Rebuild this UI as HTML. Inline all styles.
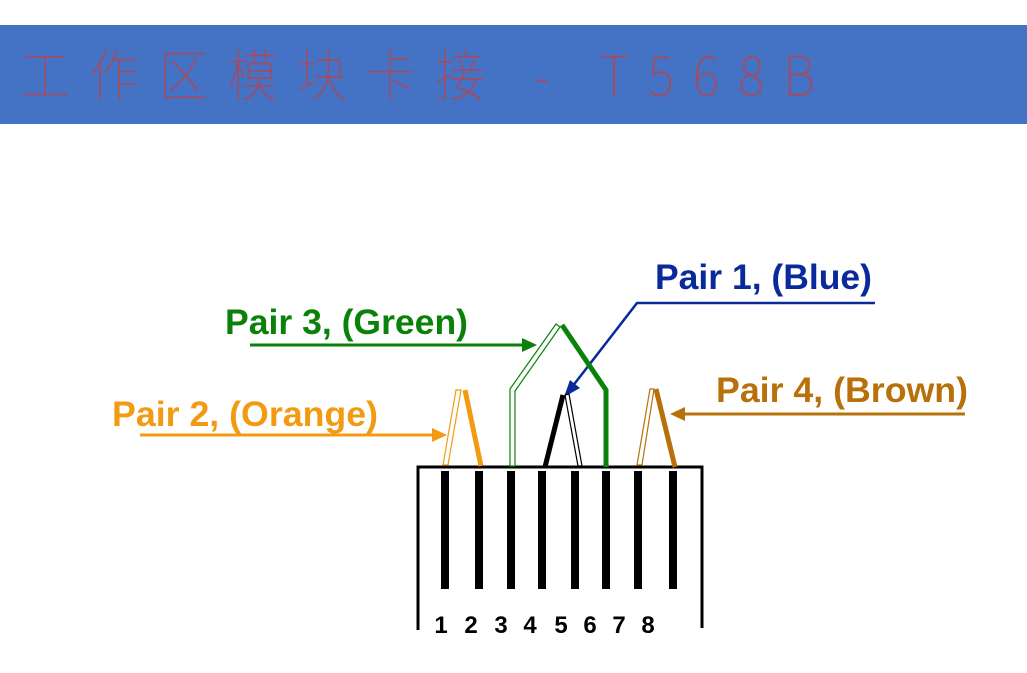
<!DOCTYPE html>
<html><head><meta charset="utf-8"><style>
html,body{margin:0;padding:0;background:#fff;}
svg{display:block;}
</style></head><body>
<svg width="1027" height="673" viewBox="0 0 1027 673" xmlns="http://www.w3.org/2000/svg">
<rect x="0" y="25" width="1027" height="99" fill="#4472c4"/>
<g transform="translate(20,96) scale(1,1.12)">
<text x="0" y="0" font-family="'Noto Sans CJK SC',sans-serif" font-weight="100" font-size="50" fill="#a84a5c" textLength="795" lengthAdjust="spacing">工作区模块卡接  -  T568B</text>
</g>
<g font-family="'Liberation Sans',Arial,sans-serif" font-weight="bold" font-size="35">
<text x="655" y="289" fill="#0a2a9c" textLength="217" lengthAdjust="spacingAndGlyphs">Pair 1, (Blue)</text>
<text x="225" y="334" fill="#0a820a" textLength="243" lengthAdjust="spacingAndGlyphs">Pair 3, (Green)</text>
<text x="112" y="426" fill="#f29b12" textLength="266" lengthAdjust="spacingAndGlyphs">Pair 2, (Orange)</text>
<text x="716" y="402" fill="#b8700a" textLength="252" lengthAdjust="spacingAndGlyphs">Pair 4, (Brown)</text>
</g>
<line x1="250" y1="345" x2="525" y2="345" stroke="#0a820a" stroke-width="3"/>
<polygon points="537,345 522,338 522,352" fill="#0a820a"/>
<line x1="140" y1="435" x2="435" y2="435" stroke="#f29b12" stroke-width="3"/>
<polygon points="447,435 432,428 432,442" fill="#f29b12"/>
<line x1="965" y1="414" x2="682" y2="414" stroke="#b8700a" stroke-width="3"/>
<polygon points="670,414 685,407 685,421" fill="#b8700a"/>
<polyline points="875,303 637,303 572,387" fill="none" stroke="#0a2a9c" stroke-width="2.5"/>
<polygon points="564,397 570,380 580,388" fill="#0a2a9c"/>
<polyline points="418,630 418,467 702,467 702,628" fill="none" stroke="#000" stroke-width="3"/>
<g stroke="#000" stroke-width="8">
<line x1="445" y1="471" x2="445" y2="589"/>
<line x1="479" y1="471" x2="479" y2="589"/>
<line x1="511" y1="471" x2="511" y2="589"/>
<line x1="542" y1="471" x2="542" y2="589"/>
<line x1="575" y1="471" x2="575" y2="589"/>
<line x1="606" y1="471" x2="606" y2="589"/>
<line x1="638" y1="471" x2="638" y2="589"/>
<line x1="673" y1="471" x2="673" y2="589"/>
</g>
<polygon points="443,465 448,465 461,390 456,390" fill="#fff" stroke="#f29b12" stroke-width="1.2"/>
<line x1="465" y1="390" x2="481" y2="466" stroke="#f29b12" stroke-width="5"/>
<polygon points="510,466 515,466 515,391 560,327 556,324 510,389" fill="#fff" stroke="#0a820a" stroke-width="1.2"/>
<polyline points="562,325 606,390 606,467" fill="none" stroke="#0a820a" stroke-width="5"/>
<line x1="545" y1="467" x2="563" y2="395" stroke="#000" stroke-width="5"/>
<polygon points="565,395 569,394 582,466 578,466" fill="#fff" stroke="#000" stroke-width="1.2"/>
<polygon points="637,465 642,465 654,389 650,389" fill="#fff" stroke="#b8700a" stroke-width="1.2"/>
<line x1="656" y1="389" x2="675" y2="467" stroke="#b8700a" stroke-width="5"/>
<g font-family="'Liberation Sans',Arial,sans-serif" font-weight="bold" font-size="24" fill="#000" text-anchor="middle">
<text x="441" y="633">1</text><text x="471" y="633">2</text><text x="501" y="633">3</text><text x="530" y="633">4</text>
<text x="561" y="633">5</text><text x="590" y="633">6</text><text x="619" y="633">7</text><text x="648" y="633">8</text>
</g>
</svg>
</body></html>
